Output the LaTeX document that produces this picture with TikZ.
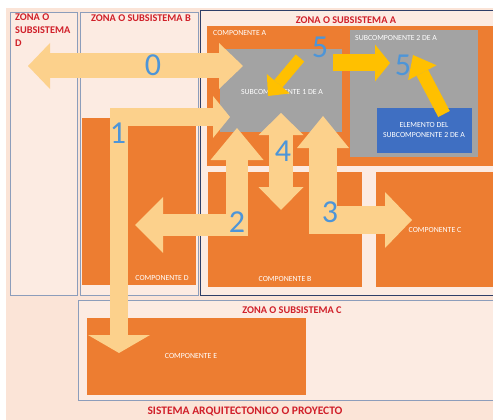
\documentclass[tikz,border=0pt]{standalone}
\usepackage{fontspec}
\setmainfont{Carlito}
\usetikzlibrary{arrows.meta}

\definecolor{fondo}{HTML}{FBE4D7}
\definecolor{zonafondo}{HTML}{FCEBE2}
\definecolor{zonaborde}{HTML}{8C9DBB}
\definecolor{zonaazul}{HTML}{2E3E68}
\definecolor{naranja}{HTML}{ED7D31}
\definecolor{gris}{HTML}{A3A3A3}
\definecolor{azul}{HTML}{3F6FC2}
\definecolor{flecha}{HTML}{FCD18C}
\definecolor{amarillo}{HTML}{FFC000}
\definecolor{rojo}{HTML}{D0202A}
\definecolor{numero}{HTML}{4D95D8}

\tikzset{
  zona/.style={draw=zonaborde, fill=zonafondo, line width=0.8pt, inner sep=0pt, anchor=north west},
  caja/.style={fill=#1, inner sep=0pt, anchor=north west},
  titulo/.style={text=rojo, font=\fontsize{10.3}{13}\selectfont\bfseries, inner sep=0pt},
  rotulo/.style={text=white, font=\fontsize{7.8}{9.5}\selectfont, inner sep=0pt},
  num/.style={text=numero, font=\fontsize{32}{32}\selectfont, inner sep=0pt},
  bloque/.style={draw=flecha, line width=#1, line cap=butt, line join=miter},
  guia/.style={draw=amarillo, line width=#1, line cap=butt},
}

\begin{document}
\begin{tikzpicture}[x=1pt, y=-1pt]
\useasboundingbox (0,0) rectangle (493,420);
\fill[fondo] (6,8) rectangle (493,420);

% zonas
\node[zona, minimum width=67pt, minimum height=283pt] (zonaD) at (10,12) {};
\node[zona, minimum width=118pt, minimum height=283pt] (zonaB) at (80,12) {};
\node[zona, draw=zonaazul, line width=1.4pt, minimum width=300pt, minimum height=285pt] (zonaA) at (200,10) {};
\node[zona, minimum width=430pt, minimum height=100pt] (zonaC) at (78,300) {};

% componentes
\node[caja=naranja, minimum width=290pt, minimum height=140pt] (compA) at (207,26) {};
\node[caja=naranja, minimum width=154pt, minimum height=115pt] (compB) at (208,172) {};
\node[caja=naranja, minimum width=125pt, minimum height=115pt] (compC) at (376,172) {};
\node[caja=naranja, minimum width=114pt, minimum height=167pt] (compD) at (82,118) {};
\node[caja=naranja, minimum width=219pt, minimum height=77pt] (compE) at (87,318) {};
\node[caja=gris, minimum width=122pt, minimum height=83pt] (sub1) at (220,49) {};
\node[caja=gris, minimum width=128pt, minimum height=127pt] (sub2) at (350,30) {};
\node[caja=azul, minimum width=95pt, minimum height=45pt] (elem) at (377,108) {};

% titulos
\node[titulo, anchor=north west, align=left] (tD) at (15,14) {ZONA O\\SUBSISTEMA\\D};
\node[titulo] (tB) at (141,18) {ZONA O SUBSISTEMA B};
\node[titulo] (tA) at (346,20) {ZONA O SUBSISTEMA A};
\node[titulo] (tC) at (292,310) {ZONA O SUBSISTEMA C};
\node[titulo, font=\fontsize{11.5}{13}\selectfont\bfseries] (tS) at (245,411) {SISTEMA ARQUITECTONICO O PROYECTO};

% rotulos
\node[rotulo, anchor=west] (rA) at (213,33) {COMPONENTE A};
\node[rotulo] (rS1) at (282,92) {SUBCOMPONENTE 1 DE A};
\node[rotulo, anchor=west] (rS2) at (355,38) {SUBCOMPONENTE 2 DE A};
\node[rotulo, align=center] (rEl) at (424,130) {ELEMENTO DEL\\SUBCOMPONENTE 2 DE A};
\node[rotulo] (rB) at (285,279) {COMPONENTE B};
\node[rotulo] (rC) at (435,230) {COMPONENTE C};
\node[rotulo] (rD) at (162,278) {COMPONENTE D};
\node[rotulo] (rE) at (191,356) {COMPONENTE E};

% extremos de flechas
\coordinate (f0i) at (28,66);
\coordinate (f0d) at (243,66);
\coordinate (f1a) at (119,353);
\coordinate (f1b) at (230,117);
\coordinate (f2a) at (135,225);
\coordinate (f2b) at (237,128);
\coordinate (f3a) at (323,116);
\coordinate (f3b) at (412,220);
\coordinate (f4a) at (281,113);
\coordinate (f4b) at (281,210);
\coordinate (f5a) at (300,58);
\coordinate (f5b) at (268,96);
\coordinate (f6a) at (333,63);
\coordinate (f6b) at (390,63);
\coordinate (f7a) at (444,114);
\coordinate (f7b) at (413,55);

% flechas de relacion
\draw[bloque=25pt, {Triangle[width=46pt,length=22pt,line width=0pt]}-{Triangle[width=46pt,length=24pt,line width=0pt]}] (f0i) -- (f0d);
\draw[bloque=18pt, {Triangle[width=62pt,length=18pt,line width=0pt]}-{Triangle[width=42pt,length=17pt,line width=0pt]}] (f1a) |- (f1b);
\draw[bloque=22pt, {Triangle[width=56pt,length=28pt,line width=0pt]}-{Triangle[width=53pt,length=32pt,line width=0pt]}] (f2a) -| (f2b);
\draw[bloque=28pt, {Triangle[width=52pt,length=32pt,line width=0pt]}-{Triangle[width=56pt,length=27pt,line width=0pt]}] (f3a) |- (f3b);
\draw[bloque=24pt, {Triangle[width=45pt,length=22pt,line width=0pt]}-{Triangle[width=45pt,length=23pt,line width=0pt]}] (f4a) -- (f4b);
\draw[guia=11pt, -{Triangle[width=30pt,length=16pt,line width=0pt]}] (f5a) -- (f5b);
\draw[guia=17pt, -{Triangle[width=37pt,length=15pt,line width=0pt]}] (f6a) -- (f6b);
\draw[guia=13pt, -{Triangle[width=32pt,length=20pt,line width=0pt]}] (f7a) -- (f7b);

% numeros
\node[num] (n0) at (153,65) {0};
\node[num] (n1) at (118,133) {1};
\node[num] (n2) at (237,222) {2};
\node[num] (n3) at (330,212) {3};
\node[num] (n4) at (283,151) {4};
\node[num] (n5a) at (320,47) {5};
\node[num] (n5b) at (403,65) {5};
\end{tikzpicture}
\end{document}
